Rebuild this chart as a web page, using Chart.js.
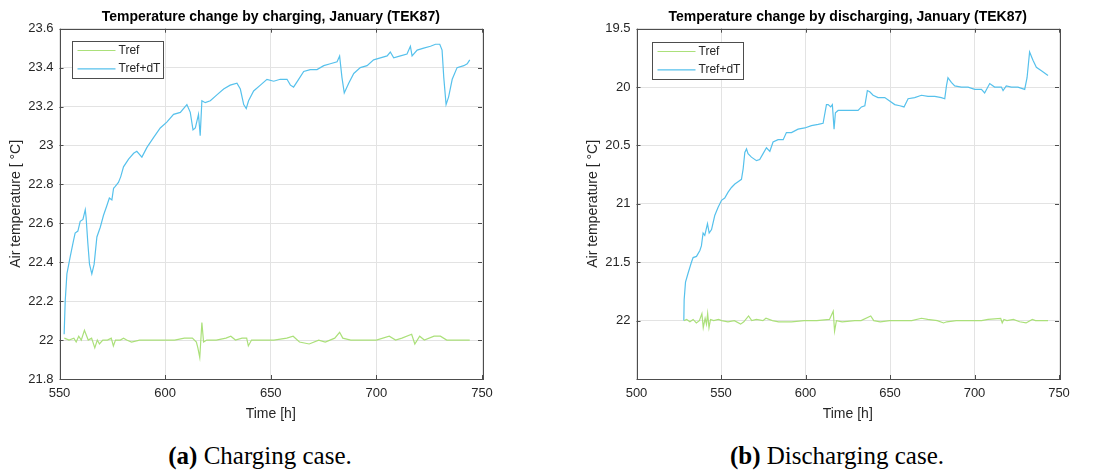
<!DOCTYPE html>
<html>
<head>
<meta charset="utf-8">
<script src="https://cdn.jsdelivr.net/npm/chart.js@4.4.1/dist/chart.umd.min.js"></script>
<style>
  body { margin: 0; background: #fff; width: 1096px; height: 470px; position: relative; overflow: hidden; }
  .panel { position: absolute; top: 0; width: 500px; height: 425px; }
  .caption { position: absolute; top: 441px; width: 400px; text-align: center;
    font: 25px "Liberation Serif", "Times New Roman", serif; color: #000; line-height: 30px; }
</style>
</head>
<body>
<div class="panel" style="left:0"><canvas id="chargeChart"></canvas></div>
<div class="panel" style="left:577px"><canvas id="dischargeChart"></canvas></div>
<div class="caption" style="left:60px"><b>(a)</b> Charging case.</div>
<div class="caption" style="left:637px"><b>(b)</b> Discharging case.</div>

<script>
// charging case, Tref+dT
const chargeDtHours = [
  552.2, 552.7, 553.5, 555.1, 556.6, 557.4, 558.7, 559.8, 561.1, 562.2,
  562.6, 563.4, 564.2, 565.3, 566.4, 567.7, 569.3, 570.8, 572.4, 573.6,
  574.8, 575.6, 576.4, 577.9, 579.0, 580.3, 582.7, 585.1, 586.6, 589.0,
  591.4, 594.5, 597.7, 600.8, 604.0, 607.2, 610.3, 611.9, 613.2, 614.3,
  615.8, 616.6, 617.4, 619.0, 621.4, 624.5, 627.7, 630.8, 634.0, 635.6,
  637.2, 638.4, 639.5, 641.9, 645.1, 648.2, 651.4, 654.5, 657.7, 659.3,
  660.8, 663.2, 665.6, 668.7, 671.9, 675.1, 678.2, 681.4, 682.6, 683.7,
  684.8, 686.9, 689.3, 692.4, 695.6, 698.7, 701.9, 705.1, 706.6, 708.2,
  711.4, 714.5, 716.1, 716.9, 719.3, 722.4, 725.6, 728.0, 730.0, 731.1,
  731.9, 733.0, 734.2, 735.9, 738.2, 741.4, 743.0, 744.2
];
const chargeDtTemps = [
  22.03, 22.20, 22.34, 22.43, 22.51, 22.55, 22.56, 22.61, 22.62, 22.67,
  22.63, 22.50, 22.39, 22.34, 22.39, 22.53, 22.58, 22.64, 22.69, 22.73,
  22.72, 22.78, 22.79, 22.81, 22.84, 22.89, 22.93, 22.96, 22.97, 22.94,
  22.99, 23.04, 23.09, 23.12, 23.16, 23.17, 23.21, 23.17, 23.08, 23.09,
  23.16, 23.05, 23.23, 23.22, 23.23, 23.26, 23.29, 23.31, 23.32, 23.29,
  23.21, 23.19, 23.23, 23.28, 23.31, 23.34, 23.33, 23.34, 23.34, 23.31,
  23.30, 23.34, 23.38, 23.39, 23.39, 23.41, 23.42, 23.43, 23.46, 23.35,
  23.27, 23.32, 23.37, 23.40, 23.41, 23.44, 23.45, 23.46, 23.48, 23.45,
  23.46, 23.47, 23.51, 23.46, 23.49, 23.50, 23.51, 23.52, 23.52, 23.49,
  23.35, 23.21, 23.25, 23.34, 23.40, 23.41, 23.42, 23.44
];

// charging case, Tref
const chargeRefHours = [
  552.3, 554.5, 556.8, 557.9, 559.1, 560.3, 561.8, 562.9, 563.6, 565.2,
  566.7, 567.9, 568.9, 570.5, 572.7, 574.5, 575.5, 576.5, 578.8, 580.3,
  581.8, 584.1, 587.9, 593.9, 600.0, 604.5, 609.1, 612.9, 614.8, 615.5,
  616.4, 617.4, 618.2, 619.7, 624.2, 628.8, 631.1, 633.3, 636.4, 638.6,
  639.4, 640.9, 645.5, 651.5, 657.6, 660.6, 663.6, 668.2, 672.7, 675.8,
  680.3, 682.6, 684.1, 687.9, 693.9, 700.0, 706.1, 709.1, 712.1, 716.7,
  718.2, 720.5, 722.7, 727.3, 730.3, 733.3, 737.1, 740.9, 744.2
];
const chargeRefTemps = [
  22.01, 22.00, 22.01, 21.99, 22.02, 22.00, 22.05, 22.02, 22.00, 22.01,
  21.96, 22.00, 21.98, 22.00, 22.00, 22.01, 21.97, 22.00, 22.00, 22.01,
  22.00, 21.99, 22.00, 22.00, 22.00, 22.00, 22.01, 22.01, 21.99, 21.96,
  21.91, 22.09, 21.99, 22.00, 22.00, 22.01, 22.02, 22.00, 22.01, 22.01,
  21.97, 22.00, 22.00, 22.00, 22.01, 22.02, 21.99, 21.98, 22.00, 21.99,
  22.01, 22.04, 22.01, 22.00, 22.00, 22.00, 22.02, 22.00, 22.01, 22.03,
  21.98, 22.02, 22.00, 22.02, 22.02, 22.00, 22.00, 22.00, 22.00
];

// discharging case, Tref+dT
const dischargeDtHours = [
  528.0, 528.2, 529.0, 530.6, 532.5, 533.5, 535.5, 537.5, 538.4, 539.4,
  540.4, 542.0, 543.0, 544.4, 546.3, 548.3, 550.3, 552.2, 554.2, 556.2,
  558.2, 560.1, 562.1, 563.1, 564.1, 565.1, 566.0, 568.0, 571.0, 572.9,
  574.9, 576.9, 578.9, 580.8, 583.8, 586.8, 588.7, 591.7, 595.6, 599.6,
  603.5, 607.5, 610.4, 612.4, 613.4, 614.9, 615.9, 616.9, 617.7, 619.3,
  623.2, 627.2, 631.1, 633.1, 635.1, 636.6, 638.0, 640.0, 642.9, 646.9,
  649.8, 652.8, 655.8, 658.3, 660.7, 664.6, 668.6, 672.5, 676.5, 680.4,
  682.4, 683.4, 684.3, 686.3, 688.3, 692.2, 696.2, 700.1, 704.1, 706.0,
  709.0, 711.9, 715.9, 716.9, 718.8, 721.8, 725.7, 729.7, 731.1, 732.6,
  734.6, 736.6, 739.6, 743.5
];
const dischargeDtTemps = [
  22.00, 21.82, 21.67, 21.59, 21.50, 21.46, 21.45, 21.40, 21.36, 21.25,
  21.27, 21.17, 21.25, 21.22, 21.10, 21.03, 20.97, 20.95, 20.90, 20.86,
  20.83, 20.81, 20.79, 20.70, 20.56, 20.53, 20.57, 20.60, 20.63, 20.62,
  20.57, 20.52, 20.55, 20.47, 20.45, 20.45, 20.39, 20.39, 20.36, 20.35,
  20.33, 20.32, 20.31, 20.15, 20.15, 20.17, 20.15, 20.36, 20.22, 20.20,
  20.20, 20.20, 20.20, 20.17, 20.16, 20.03, 20.04, 20.07, 20.09, 20.09,
  20.12, 20.15, 20.16, 20.17, 20.10, 20.09, 20.07, 20.08, 20.08, 20.09,
  20.10, 19.99, 19.92, 19.96, 19.99, 20.00, 20.00, 20.02, 20.02, 20.05,
  19.97, 20.00, 20.00, 20.03, 19.99, 20.00, 20.00, 20.02, 19.92, 19.70,
  19.77, 19.83, 19.86, 19.90
];

// discharging case, Tref
const dischargeRefHours = [
  528.2, 529.7, 531.6, 533.5, 535.4, 537.2, 538.7, 539.5, 540.6, 541.4,
  542.1, 542.9, 543.8, 545.7, 548.5, 550.4, 554.1, 557.9, 561.6, 563.5,
  566.3, 568.2, 571.0, 574.8, 576.6, 580.4, 584.1, 591.7, 599.2, 606.7,
  614.2, 616.4, 617.2, 618.3, 621.7, 629.2, 632.9, 638.6, 640.4, 644.2,
  649.8, 655.4, 662.9, 668.6, 672.3, 678.0, 681.7, 683.6, 689.2, 696.7,
  704.2, 708.0, 715.5, 716.4, 717.4, 719.2, 723.0, 726.7, 730.5, 734.2,
  736.1, 740.0, 743.5
];
const dischargeRefTemps = [
  22.00, 21.99, 22.01, 21.99, 22.02, 22.00, 21.94, 22.06, 21.98, 22.03,
  21.94, 22.06, 21.99, 22.00, 21.99, 22.00, 22.01, 22.00, 22.03, 22.01,
  21.96, 22.00, 21.99, 22.00, 21.98, 22.00, 22.01, 22.01, 22.00, 22.00,
  21.99, 21.92, 22.09, 22.00, 22.01, 22.00, 22.00, 21.96, 22.00, 22.01,
  22.00, 22.00, 22.00, 21.98, 21.99, 22.00, 22.02, 22.01, 22.00, 22.00,
  22.00, 21.99, 21.98, 22.02, 21.99, 22.00, 21.99, 22.01, 22.02, 21.99,
  22.00, 22.00, 22.00
];

const seriesLabels = ["Tref", "Tref+dT"];
const seriesColors = ["#abe07a", "#56c1ec"];

Chart.defaults.font.family = "'Liberation Sans', Arial, sans-serif";
Chart.defaults.color = "#262626";

function toPoints(hours, temps) {
  return hours.map((h, i) => ({ x: h, y: temps[i] }));
}

// box round the plot area with short ticks pointing inwards, like matlab
const axesBox = {
  id: "axesBox",
  afterDatasetsDraw(chart) {
    const { ctx, chartArea: a, scales } = chart;
    ctx.save();
    ctx.strokeStyle = "#4d4d4d";
    ctx.lineWidth = 1;
    ctx.beginPath();
    scales.x.ticks.forEach((t) => {
      const px = Math.round(scales.x.getPixelForValue(t.value)) + 0.5;
      ctx.moveTo(px, a.bottom); ctx.lineTo(px, a.bottom - 4);
      ctx.moveTo(px, a.top); ctx.lineTo(px, a.top + 4);
    });
    scales.y.ticks.forEach((t) => {
      const py = Math.round(scales.y.getPixelForValue(t.value)) + 0.5;
      ctx.moveTo(a.left, py); ctx.lineTo(a.left + 4, py);
      ctx.moveTo(a.right, py); ctx.lineTo(a.right - 4, py);
    });
    ctx.stroke();
    ctx.strokeRect(Math.round(a.left) + 0.5, Math.round(a.top) + 0.5,
      Math.round(a.right - a.left), Math.round(a.bottom - a.top));
    ctx.restore();
  }
};

// legend box in the upper left corner of the plot
const boxLegend = {
  id: "boxLegend",
  afterDraw(chart, args, opts) {
    const { ctx, chartArea: a } = chart;
    const x = Math.round(a.left + opts.dx) + 0.5;
    const y = Math.round(a.top + opts.dy) + 0.5;
    const w = 91, h = 37;
    ctx.save();
    ctx.fillStyle = "#fff";
    ctx.fillRect(x, y, w, h);
    ctx.strokeStyle = "#4d4d4d";
    ctx.lineWidth = 1;
    ctx.strokeRect(x, y, w, h);
    ctx.font = "12px 'Liberation Sans', Arial, sans-serif";
    ctx.textBaseline = "middle";
    chart.data.datasets.forEach((ds, i) => {
      const ly = y + 9 + i * 18.3;
      ctx.strokeStyle = ds.borderColor;
      ctx.lineWidth = 1.2;
      ctx.beginPath();
      ctx.moveTo(x + 5, ly); ctx.lineTo(x + 43, ly);
      ctx.stroke();
      ctx.fillStyle = "#262626";
      ctx.fillText(ds.label, x + 46, ly);
    });
    ctx.restore();
  }
};

function makeTempChart(id, title, xMin, xMax, yMin, yMax, reverse, refPts, dtPts, legendPos) {
  new Chart(document.getElementById(id), {
    type: "line",
    data: {
      datasets: [
        { label: seriesLabels[0], data: refPts, borderColor: seriesColors[0] },
        { label: seriesLabels[1], data: dtPts, borderColor: seriesColors[1] }
      ]
    },
    options: {
      responsive: true,
      maintainAspectRatio: false,
      animation: false,
      layout: { padding: { left: 8, right: 18, top: 0, bottom: 0 } },
      elements: {
        point: { radius: 0 },
        line: { borderWidth: 1.2, tension: 0 }
      },
      plugins: {
        legend: { display: false },
        tooltip: { enabled: false },
        title: {
          display: true,
          text: title,
          fullSize: false,
          color: "#000",
          font: { size: 14, weight: "bold" },
          padding: { top: 8.5, bottom: 3.4 }
        },
        boxLegend: legendPos
      },
      scales: {
        x: {
          type: "linear",
          min: xMin,
          max: xMax,
          ticks: { stepSize: 50, padding: 7, font: { size: 13 }, maxRotation: 0 },
          grid: { color: "#e3e3e3", drawTicks: false },
          border: { display: false },
          title: { display: true, text: "Time [h]", font: { size: 14 }, padding: { top: 0, bottom: 2 } },
          afterFit: (s) => { s.height = 46; }
        },
        y: {
          min: yMin,
          max: yMax,
          reverse: reverse,
          ticks: {
            stepSize: reverse ? 0.5 : 0.2,
            padding: 6,
            font: { size: 13 },
            callback: (v) => (reverse && v > 22.4 ? "" : String(+v.toFixed(1)))
          },
          grid: { color: "#e3e3e3", drawTicks: false },
          border: { display: false },
          title: { display: true, text: "Air temperature [ °C]", font: { size: 14 }, padding: { top: 0, bottom: 0 } },
          afterFit: (s) => { s.width = 51.5; }
        }
      }
    },
    plugins: [axesBox, boxLegend]
  });
}

makeTempChart("chargeChart", "Temperature change by charging, January (TEK87)",
  550, 750, 21.8, 23.6, false,
  toPoints(chargeRefHours, chargeRefTemps), toPoints(chargeDtHours, chargeDtTemps),
  { dx: 12.5, dy: 12 });

makeTempChart("dischargeChart", "Temperature change by discharging, January (TEK87)",
  500, 750, 19.5, 22.5, true,
  toPoints(dischargeRefHours, dischargeRefTemps), toPoints(dischargeDtHours, dischargeDtTemps),
  { dx: 15.5, dy: 13.5 });
</script>
</body>
</html>
